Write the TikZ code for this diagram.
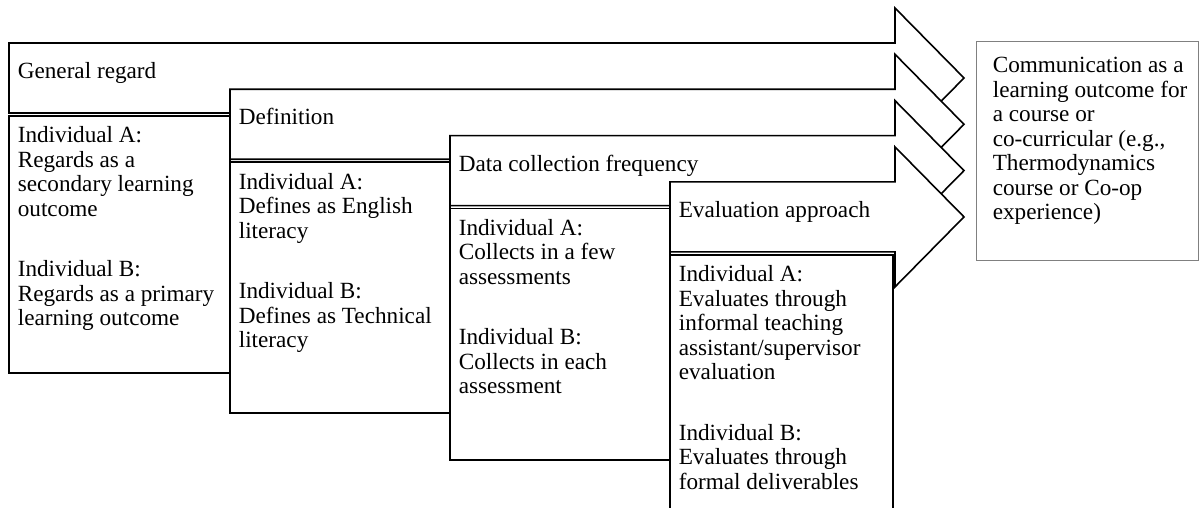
\documentclass[tikz,border=0pt]{standalone}
\usepackage{fontspec}
\setmainfont{Liberation Serif}
\usepackage{tikz}

\begin{document}
\begin{tikzpicture}[x = 0.5pt, y = -0.5pt, line width = 0.8pt,
    stage/.style = {draw, fill = white, line join = miter},
    label/.style = {anchor = north west, inner sep = 0, align = left,
        font = \fontsize{11.6}{12.25}\selectfont}]
    \useasboundingbox (0, 0) rectangle (1200, 508);

    % general regard
    \draw[stage] (9, 43) -- (895, 43) -- (895, 8) -- (964, 78)
        -- (895, 148) -- (895, 113) -- (9, 113) -- cycle;
    \node[label] (regard) at (17, 61.5) {General regard};
    \draw[stage] (9, 116) rectangle (230, 373);
    \node[label] (regardtxt) at (17, 126) {Individual A:\\Regards as a\\
        secondary learning\\outcome\\[18pt]Individual B:\\
        Regards as a primary\\learning outcome};

    % definition
    \draw[stage] (230, 89.3) -- (895, 89.3) -- (895, 54.3) -- (964, 124.3)
        -- (895, 194.3) -- (895, 159.3) -- (230, 159.3) -- cycle;
    \node[label] (definition) at (238, 107.8) {Definition};
    \draw[stage] (230, 162.3) rectangle (450, 413);
    \node[label] (definitiontxt) at (238, 172.3) {Individual A:\\
        Defines as English\\literacy\\[18pt]Individual B:\\
        Defines as Technical\\literacy};

    % data collection frequency
    \draw[stage] (450, 135.6) -- (895, 135.6) -- (895, 100.6) -- (964, 170.6)
        -- (895, 240.6) -- (895, 205.6) -- (450, 205.6) -- cycle;
    \node[label] (frequency) at (458, 154.1) {Data collection frequency};
    \draw[stage] (450, 208.6) rectangle (670, 460);
    \node[label] (frequencytxt) at (458, 218.6) {Individual A:\\
        Collects in a few\\assessments\\[18pt]Individual B:\\
        Collects in each\\assessment};

    % evaluation approach
    \draw[stage] (670, 181.9) -- (895, 181.9) -- (895, 146.9) -- (964, 216.9)
        -- (895, 286.9) -- (895, 251.9) -- (670, 251.9) -- cycle;
    \node[label] (approach) at (678, 200.4) {Evaluation approach};
    \draw[stage] (670, 254.9) rectangle (893, 540);
    \node[label] (approachtxt) at (678, 264.9) {Individual A:\\
        Evaluates through\\informal teaching\\assistant/supervisor\\
        evaluation\\[18pt]Individual B:\\Evaluates through\\
        formal deliverables};

    % outcome
    \draw[gray, line width = 0.5pt] (976, 42) rectangle (1198, 260);
    \node[label] (outcome) at (992, 56.5) {Communication as a\\
        learning outcome for\\a course or\\co-curricular (e.g.,\\
        Thermodynamics\\course or Co-op\\experience)};
\end{tikzpicture}
\end{document}
